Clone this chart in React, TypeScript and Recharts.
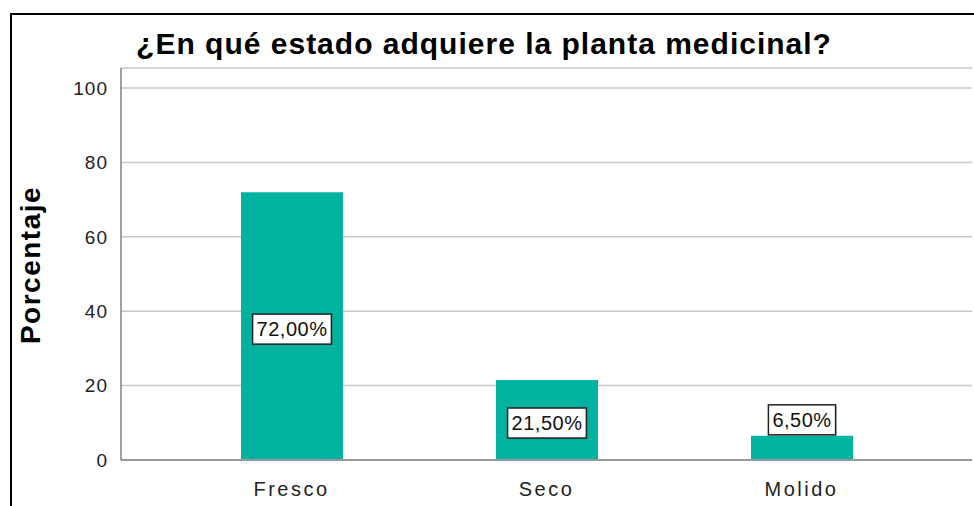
import React from 'react';
import {BarChart, Bar, XAxis, YAxis, CartesianGrid, LabelList} from 'recharts';

const categories = ['Fresco', 'Seco', 'Molido'];
const percentages = [72, 21.5, 6.5];
const yTicks = [0, 20, 40, 60, 80, 100];

const data = categories.map((name, i) => ({name, value: percentages[i]}));

const FONT = '"Liberation Sans", Arial, sans-serif';
const TEAL = '#00b3a0';

// approx glyph widths (em) for the value labels
const charW = (c: string) => (c === ',' ? 0.278 : c === '%' ? 0.889 : 0.556);

const ValueLabel = (props: any) => {
    const {x, y, width, height, value} = props;
    const text = Number(value).toFixed(2).replace('.', ',') + '%';
    const fs = 20;
    const ls = 0.5;
    const tw = text.split('').reduce((s, c) => s + charW(c) * fs + ls, 0);
    const bw = tw + 8;
    const bh = 30;
    const cx = x + width / 2;
    let cy = y + height / 2 + 3;
    if (height < bh + 10) cy = y - bh / 2 - 1;
    return (
        <g>
            <rect x={cx - bw / 2 + 1} y={cy - bh / 2 + 1} width={bw} height={bh} fill="#555" opacity={0.35}/>
            <rect x={cx - bw / 2} y={cy - bh / 2} width={bw} height={bh} fill="#fff" stroke="#222" strokeWidth={1.5}/>
            <text x={cx} y={cy} textAnchor="middle" dominantBaseline="central" fontSize={fs}
                  letterSpacing={ls} fontFamily={FONT} fill="#111">{text}</text>
        </g>
    );
};

const YTitle = () => (
    <text x={30} y={265} transform="rotate(-90 30 265)" textAnchor="middle" dominantBaseline="central"
          fontSize={28} letterSpacing={1.5} fontWeight="bold" fontFamily={FONT} fill="#000">Porcentaje</text>
);

export default function App() {
    return (
        <div style={{position: 'absolute', left: 0, top: 0, width: 974, height: 506, background: '#fff', overflow: 'hidden'}}>
            <div style={{
                position: 'absolute', left: 10, top: 13, width: 1000, height: 600,
                borderLeft: '2px solid #000', borderTop: '2px solid #000'
            }}/>
            <div style={{
                position: 'absolute', left: 0, top: 27, width: 968, textAlign: 'center',
                fontFamily: FONT, fontWeight: 'bold', fontSize: 30, letterSpacing: 1,
                lineHeight: '34px', color: '#000'
            }}>
                ¿En qué estado adquiere la planta medicinal?
            </div>
            <div style={{position: 'absolute', left: 0, top: 0}}>
                <BarChart width={974} height={506} data={data} margin={{top: 68, right: 2, bottom: 6, left: 0}}>
                    <CartesianGrid vertical={false} stroke="#c8c8c8" strokeWidth={1.5}/>
                    <XAxis dataKey="name" height={40} padding={{left: 43, right: 43}}
                           axisLine={{stroke: '#999', strokeWidth: 2}} tickLine={false}
                           tickSize={6} tickMargin={16}
                           tick={{fill: '#222', fontSize: 20, fontFamily: FONT, letterSpacing: 2.5}}/>
                    <YAxis width={121} domain={[0, 105.4]} ticks={yTicks} interval={0}
                           axisLine={{stroke: '#808080', strokeWidth: 1.5}} tickLine={false}
                           tickSize={6} tickMargin={7}
                           tick={{fill: '#222', fontSize: 19, fontFamily: FONT, letterSpacing: 1}}
                           label={{content: YTitle}}/>
                    <Bar dataKey="value" fill={TEAL} barSize={102} isAnimationActive={false}>
                        <LabelList dataKey="value" content={ValueLabel}/>
                    </Bar>
                </BarChart>
            </div>
        </div>
    );
}
